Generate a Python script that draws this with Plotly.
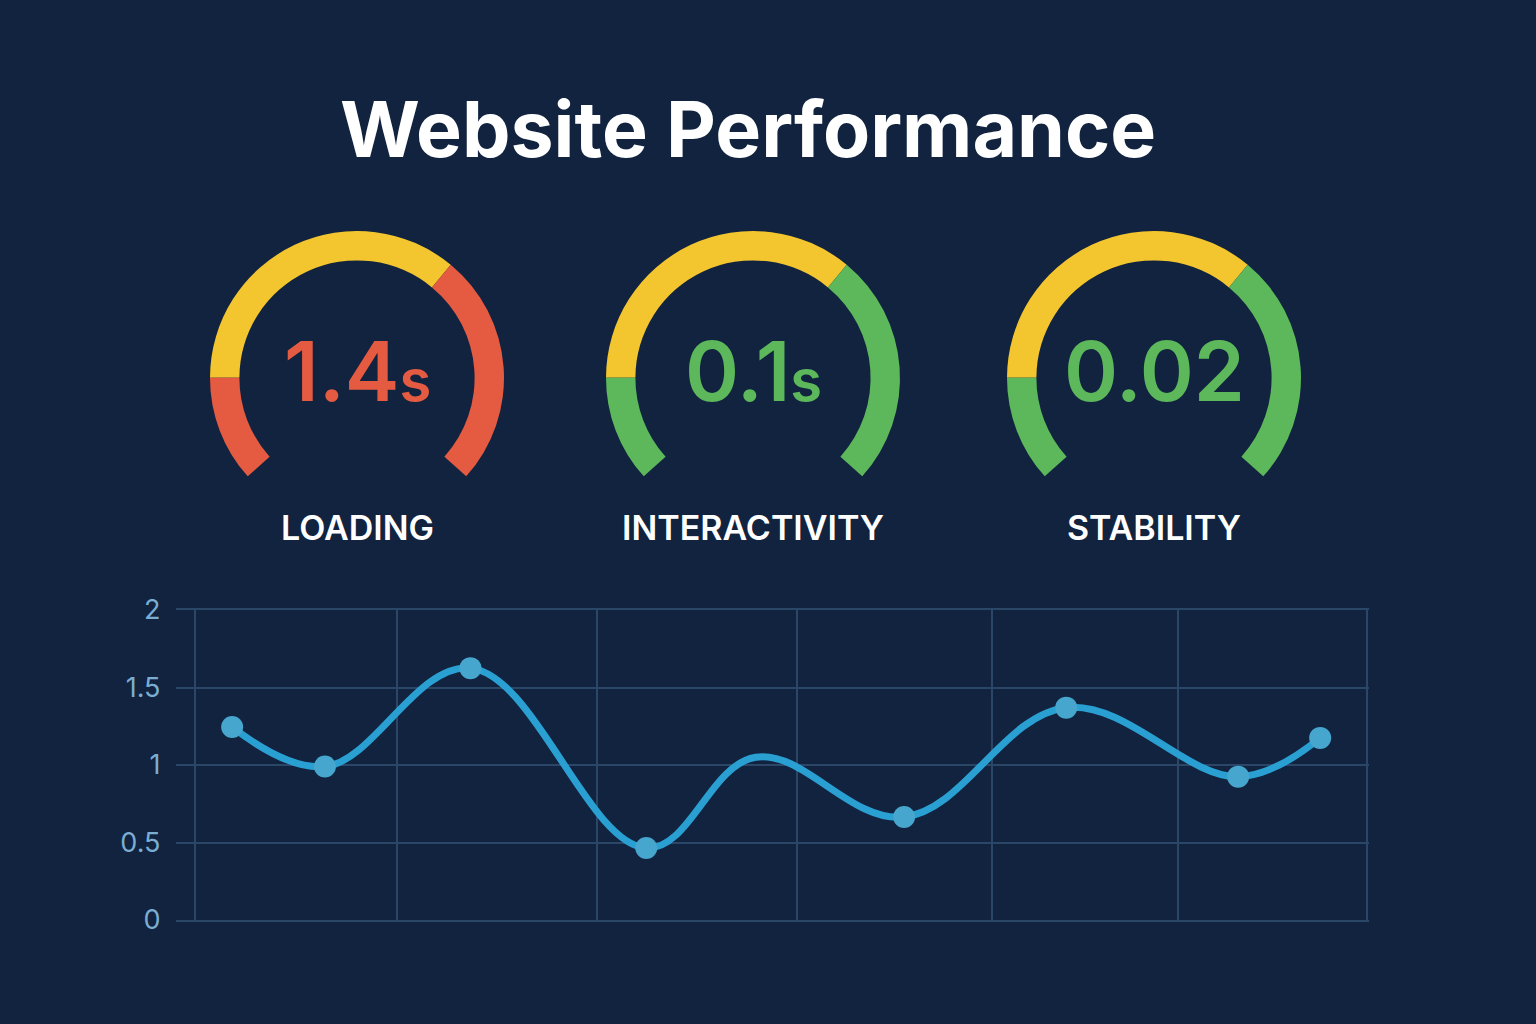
import plotly.graph_objects as go

# ---- data ----
title = "Website Performance"

gauge_labels = ["LOADING", "INTERACTIVITY", "STABILITY"]
gauge_values = ["1.4", "0.1", "0.02"]
gauge_units = ["s", "s", ""]
gauge_status = ["poor", "good", "good"]

# share of the gauge arc taken by each zone (clockwise from the bottom-left end)
gauge_zone_shares = [[16, 49, 35], [16, 49, 35], [16, 49, 35]]
gauge_zone_status = [["poor", "needs", "poor"],
                     ["good", "needs", "good"],
                     ["good", "needs", "good"]]

trend_x = [0.19, 0.665, 1.41, 2.31, 2.87, 3.63, 4.46, 5.34, 5.76]
trend_y = [1.245, 0.99, 1.625, 0.465, 1.05, 0.665, 1.37, 0.925, 1.175]
trend_marked = [1, 1, 1, 1, 0, 1, 1, 1, 1]

y_ticks = [0, 0.5, 1, 1.5, 2]
x_grid = [0, 1.035, 2.06, 3.08, 4.08, 5.03, 6]

# ---- style ----
W, H = 1536, 1024
BG = "#11233f"
GRID = "#2b4768"
FONT = "Inter, Noto Sans, sans-serif"
status_color = {"poor": "#e45b42", "needs": "#f3c62f", "good": "#5cb85a"}
ARC_SPAN = 264  # degrees covered by each gauge arc
GAUGE_CX = [357, 753, 1154]
GAUGE_CY = 378
GAUGE_R = 147


def px_x(v):
    return v / W


def px_y(v):
    return 1 - v / H


fig = go.Figure()

# gauges as open donuts
for i, label in enumerate(gauge_labels):
    shares = gauge_zone_shares[i]
    gap = sum(shares) * (360 - ARC_SPAN) / ARC_SPAN
    colors = [status_color[s] for s in gauge_zone_status[i]] + ["rgba(0,0,0,0)"]
    cx = GAUGE_CX[i]
    fig.add_trace(go.Pie(
        values=shares + [gap],
        sort=False,
        direction="clockwise",
        rotation=-ARC_SPAN / 2,
        hole=0.8,
        marker=dict(colors=colors, line=dict(width=0)),
        textinfo="none",
        hoverinfo="skip",
        showlegend=False,
        domain=dict(x=[px_x(cx - GAUGE_R), px_x(cx + GAUGE_R)],
                    y=[px_y(GAUGE_CY + GAUGE_R), px_y(GAUGE_CY - GAUGE_R)]),
    ))
    unit = gauge_units[i]
    txt = gauge_values[i]
    if unit:
        txt += "<span style='font-size:58px'>" + unit + "</span>"
    fig.add_annotation(
        x=px_x(cx), y=px_y(371), xref="paper", yref="paper",
        text=txt, showarrow=False, xanchor="center", yanchor="middle",
        font=dict(family=FONT, size=82, color=status_color[gauge_status[i]], weight=600),
    )
    fig.add_annotation(
        x=px_x(cx), y=px_y(527), xref="paper", yref="paper",
        text=label, showarrow=False, xanchor="center", yanchor="middle",
        font=dict(family=FONT, size=34, color="#ffffff", weight=600),
    )

# trend line
fig.add_trace(go.Scatter(
    x=trend_x, y=trend_y, mode="lines",
    line=dict(color="#2a9fd2", width=7, shape="spline", smoothing=1.1),
    hoverinfo="skip", showlegend=False,
))
mx = [x for x, m in zip(trend_x, trend_marked) if m]
my = [y for y, m in zip(trend_y, trend_marked) if m]
fig.add_trace(go.Scatter(
    x=mx, y=my, mode="markers",
    marker=dict(color="#46a6cd", size=22),
    hoverinfo="skip", showlegend=False,
))

fig.add_annotation(
    x=px_x(748), y=px_y(129), xref="paper", yref="paper",
    text=title, showarrow=False, xanchor="center", yanchor="middle",
    font=dict(family=FONT, size=77, color="#ffffff", weight=700),
)

fig.update_layout(
    width=W, height=H,
    margin=dict(l=0, r=0, t=0, b=0),
    paper_bgcolor=BG, plot_bgcolor=BG,
    xaxis=dict(
        domain=[px_x(175.5), px_x(1369)], range=[-0.1, 6.01],
        tickvals=x_grid, showticklabels=False,
        showgrid=True, gridcolor=GRID, gridwidth=2,
        zeroline=False, showline=True, mirror=True,
        linecolor=GRID, linewidth=2, automargin=False,
    ),
    yaxis=dict(
        domain=[px_y(920), px_y(610)], range=[0, 2],
        tickvals=y_ticks, ticktext=["0", "0.5", "1", "1.5", "2"],
        showgrid=True, gridcolor=GRID, gridwidth=2,
        zeroline=False, showline=False, automargin=False,
        ticklabelstandoff=14,
        tickfont=dict(family=FONT, size=27, color="#7badd2"),
    ),
)

fig.write_html("out.html", config={"displayModeBar": False},
               post_script="document.body.style.margin='0';")
